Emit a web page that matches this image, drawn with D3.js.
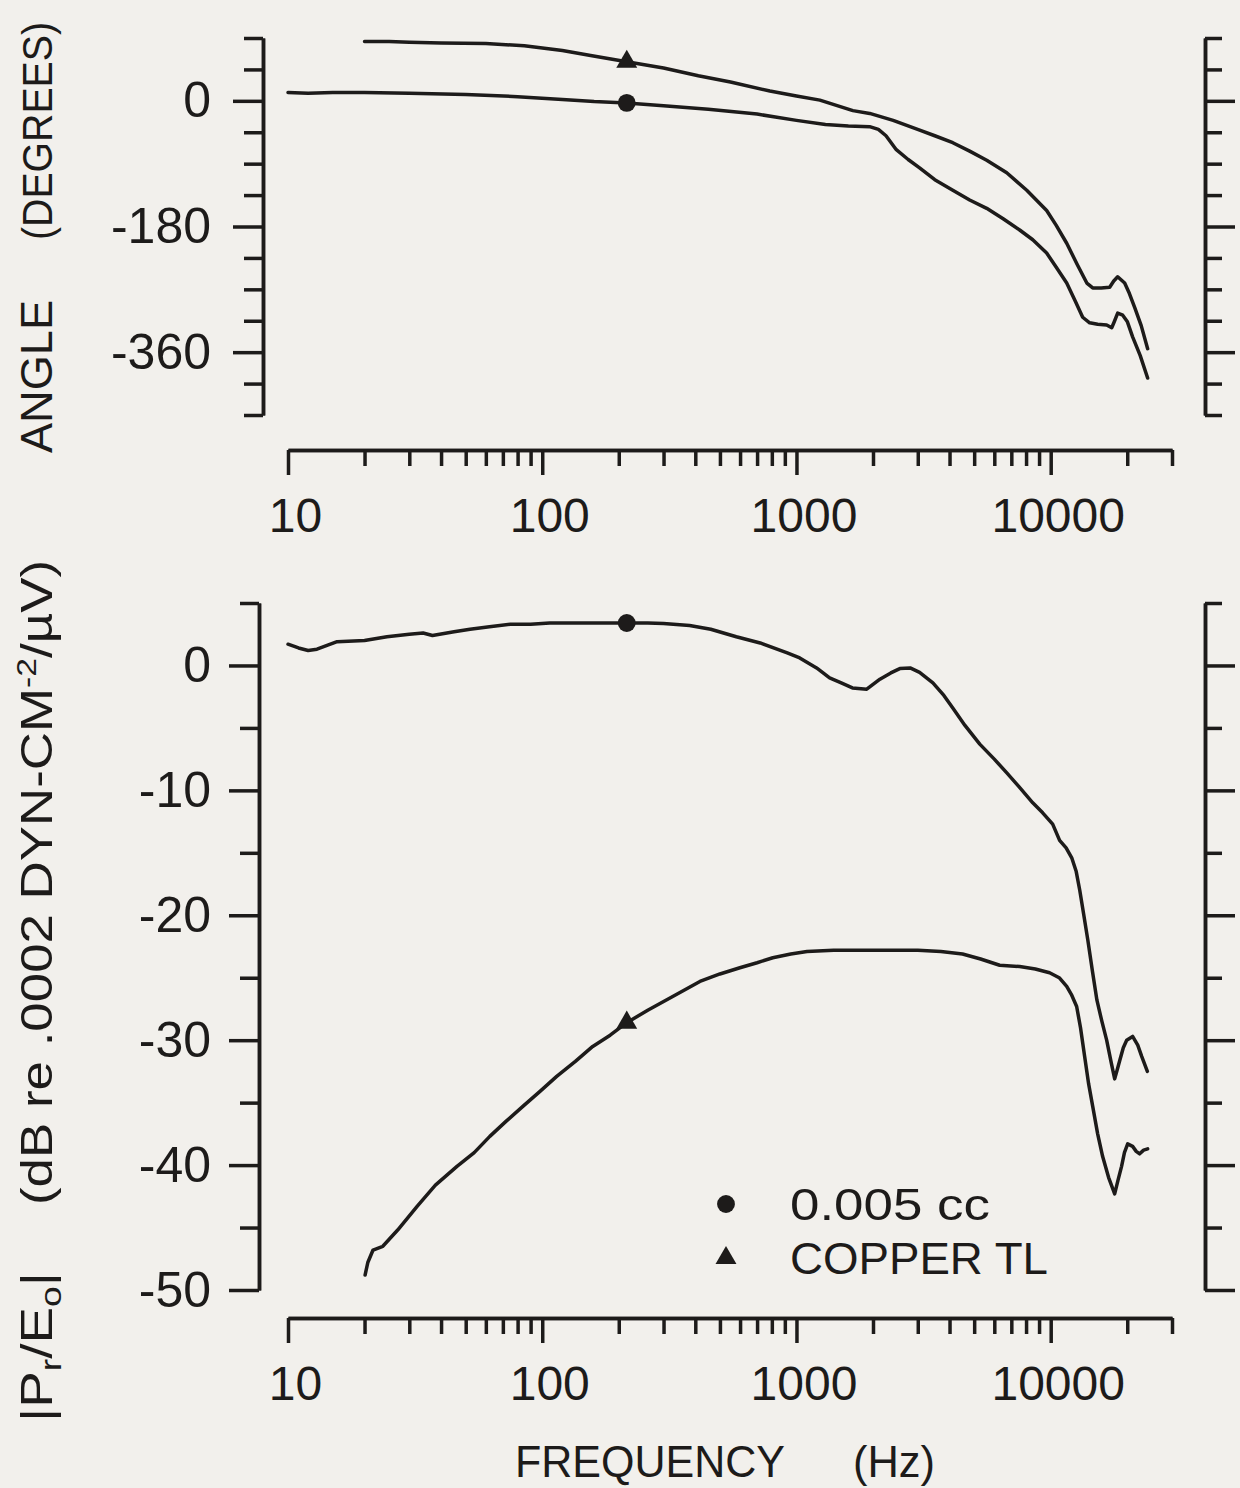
<!DOCTYPE html>
<html>
<head>
<meta charset="utf-8">
<script src="https://cdn.jsdelivr.net/npm/d3@7"></script>
<style>
	html, body { margin: 0; padding: 0; background: #f2f0ec; }
	svg { display: block; background: #f2f0ec; }
	text { font-family: "Liberation Sans", Arial, sans-serif; fill: #1d1b1a; }
	.axis path, .axis line { stroke: #1d1b1a; stroke-width: 3.5; fill: none; }
	.axis text { font-size: 50px; fill: #1d1b1a; }
	.curve { fill: none; stroke: #1d1b1a; stroke-width: 3.5; stroke-linejoin: round; stroke-linecap: round; }
	.marker { fill: #1d1b1a; }
</style>
</head>
<body>
<svg id="chart" width="1240" height="1488"></svg>
<script>
// phase, 0.005 cc (circle)
let phaseFreqCc		= [10, 12, 15, 20, 30, 50, 80, 120, 160, 215, 300, 450, 700, 1000, 1300, 1600, 1940, 2100, 2250, 2470, 2750, 3050, 3500, 4120, 4800, 5600, 6500, 7550, 8500, 9640, 10500, 11560, 12500, 13360, 14230, 15300, 16600, 17380, 17800, 18340, 19200, 20000, 21000, 22500, 24060];
let phaseCc			= [12, 11, 12, 12, 11, 9, 6, 2, -1, -3, -7, -12, -19, -28, -34, -36, -37, -41, -50, -70, -84, -96, -113, -128, -142, -154, -169, -185, -199, -218, -238, -261, -287, -310, -318, -320, -321, -325, -316, -304, -307, -316, -338, -365, -397];

// phase, copper TL (triangle)
let phaseFreqTl		= [20, 25, 30, 40, 60, 85, 120, 155, 215, 300, 411, 550, 786, 1000, 1236, 1667, 1941, 2400, 3052, 3500, 4120, 4800, 5600, 6715, 8050, 9640, 10500, 11560, 12700, 13870, 14630, 15800, 17060, 17700, 18340, 19540, 20400, 21390, 22700, 24060];
let phaseTl			= [85, 85, 84, 83, 82, 79, 72, 65, 56, 47, 36, 27, 14, 7, 1, -14, -18, -28, -42, -50, -60, -72, -85, -103, -128, -157, -178, -204, -234, -261, -268, -268, -267, -258, -252, -261, -276, -296, -322, -355];

// magnitude, 0.005 cc (circle)
let magFreqCc		= [10, 11, 12, 13, 15.6, 20, 24.5, 30, 34, 37, 45, 52, 62, 75, 90, 107, 128, 160, 215, 260, 300, 380, 460, 580, 720, 920, 1030, 1200, 1350, 1500, 1660, 1890, 2130, 2350, 2550, 2800, 3050, 3440, 3800, 4120, 4600, 5260, 6000, 6720, 7500, 8500, 9300, 10180, 10840, 11500, 12100, 12600, 13010, 13500, 14000, 14600, 15200, 15900, 16600, 17300, 17850, 18300, 18700, 19300, 19900, 21000, 22000, 22800, 24000];
let magCc			= [1.7, 1.4, 1.2, 1.3, 1.9, 2.0, 2.3, 2.5, 2.6, 2.4, 2.7, 2.9, 3.1, 3.3, 3.3, 3.4, 3.4, 3.4, 3.4, 3.4, 3.35, 3.2, 2.9, 2.3, 1.8, 1.0, 0.6, -0.2, -1.0, -1.4, -1.8, -1.9, -1.1, -0.6, -0.25, -0.2, -0.55, -1.4, -2.4, -3.4, -4.8, -6.3, -7.5, -8.6, -9.7, -11.0, -11.8, -12.7, -14.0, -14.6, -15.4, -16.5, -18.0, -20.0, -22.0, -24.5, -26.8, -28.5, -30.0, -31.8, -33.1, -32.3, -31.6, -30.6, -30.0, -29.7, -30.4, -31.3, -32.5];

// magnitude, copper TL (triangle)
let magFreqTl		= [20.1, 20.6, 21.6, 23.6, 27, 32.2, 38, 46.2, 54, 62.2, 72, 83.9, 98, 114, 135, 158, 185, 215, 260, 326, 417, 500, 599, 700, 807, 950, 1100, 1400, 1800, 2300, 3000, 3700, 4500, 5300, 6300, 7550, 8700, 9900, 10800, 11560, 12100, 12650, 13100, 13600, 14100, 14630, 15300, 16000, 16900, 17850, 18400, 19000, 19500, 20080, 21000, 21700, 22380, 23200, 24060];
let magTl			= [-48.8, -47.8, -46.8, -46.5, -45.2, -43.3, -41.6, -40.1, -39.0, -37.7, -36.5, -35.3, -34.1, -32.9, -31.7, -30.5, -29.6, -28.6, -27.6, -26.5, -25.3, -24.7, -24.2, -23.8, -23.4, -23.1, -22.9, -22.8, -22.8, -22.8, -22.8, -22.9, -23.1, -23.5, -24.0, -24.1, -24.3, -24.6, -25.0, -25.7, -26.4, -27.3, -29.0, -31.3, -33.5, -35.3, -37.5, -39.3, -41.0, -42.3, -41.2, -40.1, -39.0, -38.3, -38.5, -38.9, -39.1, -38.8, -38.7];

let markerFreq		= 215;

let freqMajor		= [10, 100, 1000, 10000];
let freqMinor		= [20, 30, 40, 50, 60, 70, 80, 90, 200, 300, 400, 500, 600, 700, 800, 900, 2000, 3000, 4000, 5000, 6000, 7000, 8000, 9000, 20000, 30000];
let angleMajor		= [0, -180, -360];
let angleMinor		= [90, 45, -45, -90, -135, -225, -270, -315, -405, -450];
let dbMajor			= [0, -10, -20, -30, -40, -50];
let dbMinor			= [5, -5, -15, -25, -35, -45];

let legendLabels	= ["0.005 cc", "COPPER TL"];

let svg				= d3.select("#chart");
let ink				= "#1d1b1a";
let circleArea		= 250;
let triangleArea	= 190;

let x				= d3.scaleLog().domain([10, 30000]).range([288, 1172]);
let yPhase			= d3.scaleLinear().domain([90, -450]).range([38, 415]);
let yMag			= d3.scaleLinear().domain([5, -50]).range([603, 1290]);

let zip = (fs, vs) => fs.map((f, i) => ({ f: f, v: vs[i] }));
let symbolPath = (sym) => d3.symbol(sym, sym === d3.symbolCircle ? circleArea : triangleArea)();

function drawPanel(y, axisY, leftX, rightX, major, minor, fmt, series, leftPad) {
	let g = svg.append("g");

	// x axis hanging below the plot
	g.append("g")
		.attr("class", "axis")
		.attr("transform", "translate(0," + axisY + ")")
		.call(d3.axisBottom(x).tickValues(freqMajor).tickSize(25).tickPadding(23).tickSizeOuter(0).tickFormat(d3.format("d")))
		.call((a) => a.selectAll("text").attr("dx", 7).style("font-size", "48px"));

	g.append("g")
		.attr("class", "axis")
		.attr("transform", "translate(0," + axisY + ")")
		.call(d3.axisBottom(x).tickValues(freqMinor).tickSize(16).tickSizeOuter(0).tickFormat(""));

	// left axis
	g.append("g")
		.attr("class", "axis")
		.attr("transform", "translate(" + leftX + ",0)")
		.call(d3.axisLeft(y).tickValues(major).tickSize(30).tickPadding(leftPad).tickSizeOuter(0).tickFormat(fmt));

	g.append("g")
		.attr("class", "axis")
		.attr("transform", "translate(" + leftX + ",0)")
		.call(d3.axisLeft(y).tickValues(minor).tickSize(19).tickSizeOuter(0).tickFormat(""));

	// right axis
	g.append("g")
		.attr("class", "axis")
		.attr("transform", "translate(" + rightX + ",0)")
		.call(d3.axisRight(y).tickValues(major).tickSize(30).tickSizeOuter(0).tickFormat(""));

	g.append("g")
		.attr("class", "axis")
		.attr("transform", "translate(" + rightX + ",0)")
		.call(d3.axisRight(y).tickValues(minor).tickSize(17).tickSizeOuter(0).tickFormat(""));

	g.selectAll(".axis .domain").attr("stroke", ink);
	g.selectAll(".axis .tick line").attr("stroke", ink);

	let line = d3.line()
		.x((o) => x(o.f))
		.y((o) => y(o.v));

	series.forEach((s) => {
		g.append("path")
			.datum(s.data)
			.attr("class", "curve")
			.attr("d", line);

		let m = s.data.find((o) => o.f === markerFreq);

		g.append("path")
			.attr("class", "marker")
			.attr("transform", "translate(" + x(m.f) + "," + y(m.v) + ")")
			.attr("d", symbolPath(s.symbol));
	});
}

let minusFmt = (d) => (d < 0 ? "-" + Math.abs(d) : String(d));

drawPanel(yPhase, 450, 263, 1205, angleMajor, angleMinor, minusFmt, [
	{ data: zip(phaseFreqCc, phaseCc), symbol: d3.symbolCircle },
	{ data: zip(phaseFreqTl, phaseTl), symbol: d3.symbolTriangle }
], 22);

drawPanel(yMag, 1318, 259, 1205, dbMajor, dbMinor, minusFmt, [
	{ data: zip(magFreqCc, magCc), symbol: d3.symbolCircle },
	{ data: zip(magFreqTl, magTl), symbol: d3.symbolTriangle }
], 18);

// axis titles
svg.append("text")
	.attr("transform", "translate(52,453) rotate(-90)")
	.attr("textLength", 153).attr("lengthAdjust", "spacingAndGlyphs")
	.style("font-size", "44px")
	.text("ANGLE");

svg.append("text")
	.attr("transform", "translate(52,240) rotate(-90)")
	.attr("textLength", 218).attr("lengthAdjust", "spacingAndGlyphs")
	.style("font-size", "42px")
	.text("(DEGREES)");

let magTitle = svg.append("text")
	.attr("transform", "translate(52,1422) rotate(-90)")
	.attr("textLength", 150).attr("lengthAdjust", "spacingAndGlyphs")
	.style("font-size", "44px");
magTitle.append("tspan").text("|P");
magTitle.append("tspan").attr("dy", 9).style("font-size", "30px").text("r");
magTitle.append("tspan").attr("dy", -9).text("/E");
magTitle.append("tspan").attr("dy", 9).style("font-size", "30px").text("o");
magTitle.append("tspan").attr("dy", -9).text("|");

let unitTitle = svg.append("text")
	.attr("transform", "translate(52,1205) rotate(-90)")
	.attr("textLength", 645).attr("lengthAdjust", "spacingAndGlyphs")
	.style("font-size", "44px");
unitTitle.append("tspan").text("(dB  re  .0002  DYN-CM");
unitTitle.append("tspan").attr("dy", -16).style("font-size", "28px").text("-2");
unitTitle.append("tspan").attr("dy", 16).text("/\u00B5V)");

svg.append("text")
	.attr("x", 515).attr("y", 1477)
	.attr("textLength", 270).attr("lengthAdjust", "spacingAndGlyphs")
	.style("font-size", "44px")
	.text("FREQUENCY");

svg.append("text")
	.attr("x", 853).attr("y", 1477)
	.attr("textLength", 82).attr("lengthAdjust", "spacingAndGlyphs")
	.style("font-size", "44px")
	.text("(Hz)");

// legend
let legend = svg.append("g").attr("transform", "translate(726,1204)");
[d3.symbolCircle, d3.symbolTriangle].forEach((sym, i) => {
	legend.append("path")
		.attr("class", "marker")
		.attr("transform", "translate(0," + (i * 54) + ")")
		.attr("d", symbolPath(sym));

	legend.append("text")
		.attr("x", 64).attr("y", i * 54 + 16)
		.attr("textLength", i === 0 ? 200 : 258).attr("lengthAdjust", "spacingAndGlyphs")
		.style("font-size", "44px")
		.text(legendLabels[i]);
});
</script>
</body>
</html>
